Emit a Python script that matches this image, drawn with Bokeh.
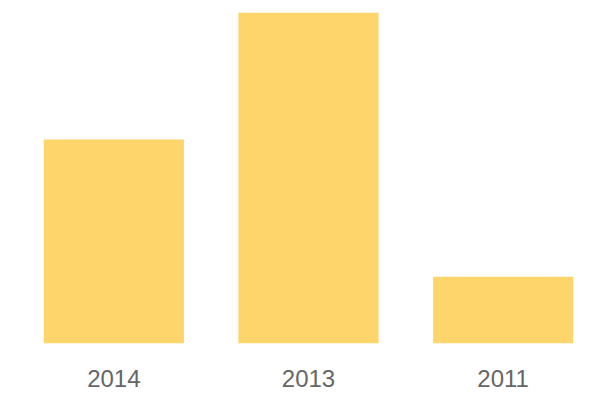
from bokeh.plotting import figure
from bokeh.models import ColumnDataSource, Range1d
from bokeh.embed import file_html
from bokeh.resources import INLINE

years = ["2014", "2013", "2011"]
values = [61.6, 100.0, 20.2]

source = ColumnDataSource(data=dict(year=years, value=values))

p = figure(x_range=years, y_range=Range1d(0, 100),
           frame_width=584, frame_height=331,
           min_border_left=16, min_border_right=0, min_border_top=12, min_border_bottom=0,
           output_backend="svg", toolbar_location=None)
p.vbar(x="year", top="value", width=0.72, source=source,
       fill_color="#fed56b", line_color=None)

p.x_range.range_padding = 0
p.yaxis.visible = False
p.xgrid.visible = False
p.ygrid.visible = False
p.outline_line_color = None
p.xaxis.axis_line_color = None
p.xaxis.major_tick_line_color = None
p.xaxis.minor_tick_line_color = None
p.xaxis.major_tick_out = 0
p.xaxis.major_tick_in = 0
p.xaxis.major_label_standoff = 26
p.xaxis.major_label_text_font = "Liberation Sans"
p.xaxis.major_label_text_font_size = "24px"
p.xaxis.major_label_text_color = "#666666"

open("out.html", "w").write(file_html(p, INLINE))
